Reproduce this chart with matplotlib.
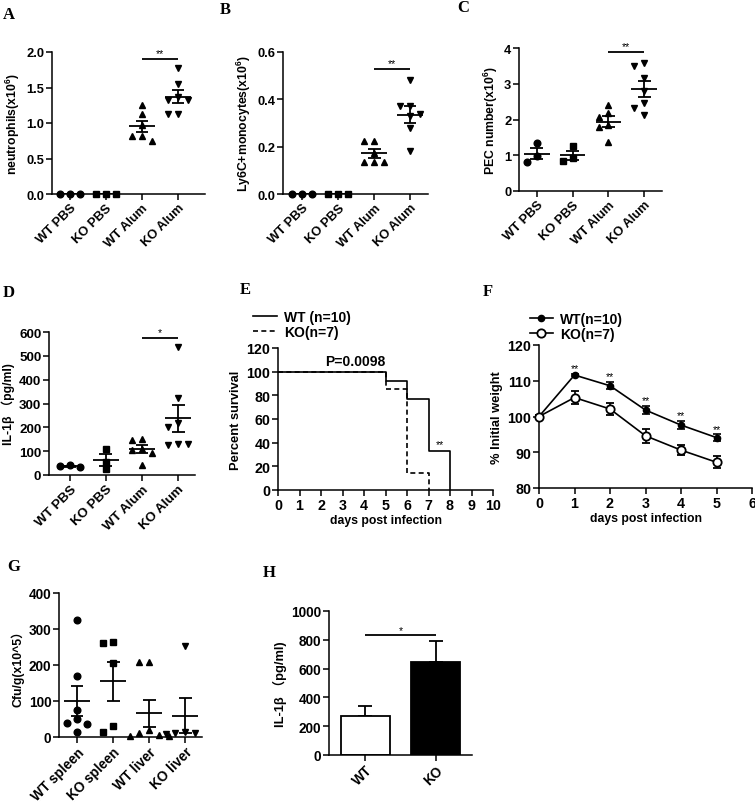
import numpy as np
import matplotlib
matplotlib.use("Agg")
import matplotlib.pyplot as plt
from matplotlib.lines import Line2D

plt.rcParams['font.family'] = ['Liberation Sans', 'DejaVu Sans']
plt.rcParams['font.weight'] = 'bold'
plt.rcParams['axes.labelweight'] = 'bold'
plt.rcParams['mathtext.fontset'] = 'custom'
plt.rcParams['mathtext.rm'] = 'Liberation Sans:bold'
plt.rcParams['mathtext.it'] = 'Liberation Sans:bold:italic'
plt.rcParams['mathtext.bf'] = 'Liberation Sans:bold'

# ---------------- data ----------------
abcd_cats = ["WT PBS", "KO PBS", "WT Alum", "KO Alum"]

a_wt_pbs = [0, 0, 0]
a_ko_pbs = [0, 0, 0]
a_wt_alum = [1.25, 1.13, 0.97, 0.81, 0.81, 0.74]
a_ko_alum = [1.78, 1.55, 1.36, 1.33, 1.33, 1.12, 1.12]

b_wt_pbs = [0, 0, 0]
b_ko_pbs = [0, 0, 0]
b_wt_alum = [0.226, 0.226, 0.174, 0.135, 0.135, 0.135]
b_ko_alum = [0.48, 0.37, 0.37, 0.34, 0.33, 0.28, 0.18]

c_wt_pbs = [1.33, 0.97, 0.82]
c_ko_pbs = [1.25, 0.92, 0.84]
c_wt_alum = [2.41, 2.17, 2.06, 1.86, 1.78, 1.38]
c_ko_alum = [3.57, 3.49, 3.16, 2.80, 2.46, 2.33, 2.13]

d_wt_pbs = [42, 36, 33]
d_ko_pbs = [110, 55, 25]
d_wt_alum = [150, 148, 110, 105, 92, 40]
d_ko_alum = [535, 325, 220, 200, 130, 125, 130]

e_wt_days = [0, 5, 6, 7, 8]
e_wt_surv = [100, 92.3, 76.9, 33.3, 0]
e_ko_days = [0, 5, 6, 7]
e_ko_surv = [100, 85.7, 14.3, 0]

f_days = [0, 1, 2, 3, 4, 5]
f_wt_mean = [100, 111.6, 108.6, 101.8, 97.6, 94.1]
f_wt_sem = [0.3, 0.4, 1.0, 1.1, 1.1, 0.9]
f_ko_mean = [100, 105.3, 102.1, 94.6, 90.6, 87.2]
f_ko_sem = [0.5, 1.8, 1.8, 2.0, 1.3, 1.7]

g_cats = ["WT spleen", "KO spleen", "WT liver", "KO liver"]
g_wt_spleen = [325, 170, 75, 50, 38, 35, 13]
g_ko_spleen = [263, 260, 205, 30, 15]
g_wt_liver = [208, 208, 20, 12, 5, 3, 3]
g_ko_liver = [253, 13, 12, 10, 8]

h_cats = ["WT", "KO"]
h_means = [268, 643]
h_sems = [70, 150]

# ---------------- helpers ----------------
W, H = 755, 803
fig = plt.figure(figsize=(W / 100, H / 100), dpi=100)

LW = 1.1
LABFS = 8.8


def add_ax(x0, x1, ytop, ybot, fs):
    ax = fig.add_axes([x0 / W, 1 - ybot / H, (x1 - x0) / W, (ybot - ytop) / H])
    for s in ['top', 'right']:
        ax.spines[s].set_visible(False)
    for s in ['left', 'bottom']:
        ax.spines[s].set_linewidth(LW)
    ax.tick_params(direction='out', length=4, width=LW, labelsize=fs, pad=1.5)
    return ax


def bold_ticks(ax):
    for lab in ax.get_xticklabels() + ax.get_yticklabels():
        lab.set_fontweight('bold')


def swarm(vals, thresh, step):
    placed = []
    offs = []
    for v in vals:
        chosen = 0
        for k in [0, -1, 1, -2, 2, -3, 3]:
            x = k * step
            if all(abs(x - px) >= step * 0.9 or abs(v - pv) >= thresh for px, pv in placed):
                chosen = x
                break
        placed.append((chosen, v))
        offs.append(chosen)
    return np.array(offs)


def scatter_panel(ax, groups, markers, yrange, ms=4.8):
    thresh = 0.05 * yrange
    for i, (vals, mk) in enumerate(zip(groups, markers)):
        vals = np.asarray(vals, dtype=float)
        offs = swarm(vals, thresh, 0.27)
        ax.plot(i + offs, vals, linestyle='none', marker=mk, color='black',
                markersize=ms, zorder=3, clip_on=False)
        m = vals.mean()
        sem = vals.std(ddof=1) / np.sqrt(len(vals))
        ax.hlines(m, i - 0.36, i + 0.36, color='black', lw=1.3, zorder=4)
        ax.vlines(i, m - sem, m + sem, color='black', lw=1.3, zorder=4)
        ax.hlines([m - sem, m + sem], i - 0.18, i + 0.18, color='black', lw=1.3, zorder=4)


def rot_labels(ax, labels, fs):
    ax.set_xticks(range(len(labels)))
    ax.set_xticklabels(labels, rotation=45, ha='right', rotation_mode='anchor',
                       fontsize=fs, fontweight='bold')


def sig(ax, x0, x1, y, text, dy):
    ax.hlines(y, x0, x1, color='black', lw=1.3)
    ax.text((x0 + x1) / 2, y + dy, text, ha='center', va='center', fontsize=7.5,
            fontweight='normal')


def letter(x, y, t):
    fig.text(x / W, 1 - y / H, t, family=['Liberation Serif'], fontweight='bold',
             fontsize=12, ha='left', va='center')


mk4 = ['o', 's', '^', 'v']

# ---------------- A ----------------
fs = 9.3
ax = add_ax(52, 205, 53, 195, fs)
scatter_panel(ax, [a_wt_pbs, a_ko_pbs, a_wt_alum, a_ko_alum], mk4, 2.0)
ax.set_xlim(-0.5, 3.75)
ax.set_ylim(0, 2.0)
ax.set_yticks([0, 0.5, 1.0, 1.5, 2.0])
ax.set_yticklabels(['0.0', '0.5', '1.0', '1.5', '2.0'])
rot_labels(ax, abcd_cats, fs)
ax.set_ylabel('neutrophils(x10$^{6}$)', fontsize=LABFS, labelpad=3)
sig(ax, 2, 3, 1.9, '**', 0.08)
bold_ticks(ax)

# ---------------- B ----------------
ax = add_ax(283, 428, 53, 195, fs)
scatter_panel(ax, [b_wt_pbs, b_ko_pbs, b_wt_alum, b_ko_alum], mk4, 0.6)
ax.set_xlim(-0.53, 3.5)
ax.set_ylim(0, 0.6)
ax.set_yticks([0, 0.2, 0.4, 0.6])
ax.set_yticklabels(['0.0', '0.2', '0.4', '0.6'])
rot_labels(ax, abcd_cats, fs)
ax.set_ylabel('Ly6C+monocytes(x10$^{6}$)', fontsize=LABFS, labelpad=3)
sig(ax, 2, 3, 0.527, '**', 0.025)
bold_ticks(ax)

# ---------------- C ----------------
ax = add_ax(519, 662, 49, 192, fs)
scatter_panel(ax, [c_wt_pbs, c_ko_pbs, c_wt_alum, c_ko_alum], mk4, 4.0)
ax.set_xlim(-0.5, 3.5)
ax.set_ylim(0, 4)
ax.set_yticks([0, 1, 2, 3, 4])
rot_labels(ax, abcd_cats, fs)
ax.set_ylabel('PEC number(x10$^{6}$)', fontsize=LABFS, labelpad=3)
sig(ax, 2, 3, 3.88, '**', 0.17)
bold_ticks(ax)

# ---------------- D ----------------
fs = 9.6
ax = add_ax(49, 195, 333, 476, fs)
scatter_panel(ax, [d_wt_pbs, d_ko_pbs, d_wt_alum, d_ko_alum], mk4, 600)
ax.set_xlim(-0.58, 3.47)
ax.set_ylim(0, 600)
ax.set_yticks(range(0, 601, 100))
rot_labels(ax, abcd_cats, fs)
ax.set_ylabel('IL-1β （pg/ml)', fontsize=LABFS, labelpad=3,
              family=['Liberation Sans', 'Noto Sans CJK SC'])
sig(ax, 2, 3, 576, '*', 22)
bold_ticks(ax)

# ---------------- E ----------------
fs = 10.3
ax = add_ax(278, 493, 349, 491, fs)
ax.step(e_wt_days, e_wt_surv, where='post', color='black', lw=1.2)
ax.step(e_ko_days, e_ko_surv, where='post', color='black', lw=1.2, linestyle=(0, (3, 2)))
ax.set_xlim(0, 10)
ax.set_ylim(0, 120)
ax.set_xticks(range(0, 11))
ax.set_yticks(range(0, 121, 20))
ax.set_xlabel('days post infection', fontsize=LABFS, labelpad=2)
ax.set_ylabel('Percent survival', fontsize=LABFS + 0.5, labelpad=3)
ax.text(3.6, 109, 'P=0.0098', ha='center', va='center', fontsize=10, fontweight='bold')
ax.text(7.55, 39, '**', ha='center', va='center', fontsize=7.5, fontweight='normal')
e_handles = [Line2D([], [], color='black', lw=1.2),
             Line2D([], [], color='black', lw=1.2, linestyle=(0, (3, 2)))]
ax.legend(e_handles, ['WT (n=10)', 'KO(n=7)'], loc='upper left',
          bbox_to_anchor=(-0.14, 1.31), frameon=False,
          handlelength=1.7, handletextpad=0.5, borderaxespad=0, labelspacing=0.1,
          prop={'weight': 'bold', 'size': 10})
bold_ticks(ax)

# ---------------- F ----------------
ax = add_ax(539, 752, 346, 489, fs)
ax.errorbar(f_days, f_wt_mean, yerr=f_wt_sem, color='black', marker='o', markersize=4.5,
            lw=1.2, capsize=3, capthick=1.2, elinewidth=1.2, zorder=3, clip_on=False)
ax.errorbar(f_days, f_ko_mean, yerr=f_ko_sem, color='black', marker='o', markersize=6,
            markerfacecolor='white', markeredgewidth=1.3, lw=1.2, capsize=3, capthick=1.2,
            elinewidth=1.2, zorder=3, clip_on=False)
ax.set_xlim(0, 6)
ax.set_ylim(80, 120)
ax.set_xticks(range(0, 7))
ax.set_yticks(range(80, 121, 10))
ax.set_xlabel('days post infection', fontsize=LABFS, labelpad=2)
ax.set_ylabel('% Initial weight', fontsize=LABFS + 0.5, labelpad=3)
for d, m, s in zip(f_days[1:], f_wt_mean[1:], f_wt_sem[1:]):
    ax.text(d, m + s + 1.6, '**', ha='center', va='center', fontsize=7.5, fontweight='normal')
f_handles = [Line2D([], [], color='black', lw=1.2, marker='o', markersize=4.5),
             Line2D([], [], color='black', lw=1.2, marker='o', markersize=6,
                    markerfacecolor='white', markeredgewidth=1.3)]
ax.legend(f_handles, ['WT(n=10)', 'KO(n=7)'], loc='upper left',
          bbox_to_anchor=(-0.07, 1.27), frameon=False,
          handlelength=1.7, handletextpad=0.5, borderaxespad=0, labelspacing=0.1,
          prop={'weight': 'bold', 'size': 10})
bold_ticks(ax)

# ---------------- G ----------------
fs = 9.8
ax = add_ax(59, 202, 594, 738, fs)
scatter_panel(ax, [g_wt_spleen, g_ko_spleen, g_wt_liver, g_ko_liver], mk4, 400)
ax.set_xlim(-0.5, 3.47)
ax.set_ylim(0, 400)
ax.set_yticks(range(0, 401, 100))
rot_labels(ax, g_cats, fs)
ax.set_ylabel('Cfu/g(x10^5）', fontsize=LABFS, labelpad=3,
              family=['Liberation Sans', 'Noto Sans CJK SC'])
bold_ticks(ax)

# ---------------- H ----------------
ax = add_ax(329, 472, 612, 756, fs)
xh = np.arange(len(h_cats))
ax.bar(xh, h_means, width=0.69, color=['white', 'black'], edgecolor='black', linewidth=1.3,
       zorder=2)
ax.errorbar(xh, h_means, yerr=[np.zeros(len(h_means)), h_sems], fmt='none', ecolor='black',
            elinewidth=1.3, capsize=5, capthick=1.3, zorder=1)
ax.set_xlim(-0.51, 1.51)
ax.set_ylim(0, 1000)
ax.set_yticks(range(0, 1001, 200))
rot_labels(ax, h_cats, fs)
ax.set_ylabel('IL-1β （pg/ml)', fontsize=LABFS + 0.5, labelpad=3,
              family=['Liberation Sans', 'Noto Sans CJK SC'])
sig(ax, 0, 1, 835, '*', 30)
bold_ticks(ax)

# ---------------- letters ----------------
letter(3, 15, 'A')
letter(220, 10, 'B')
letter(457, 8, 'C')
letter(3, 293, 'D')
letter(240, 290, 'E')
letter(483, 292, 'F')
letter(7, 567, 'G')
letter(263, 573, 'H')

fig.savefig('out.png', dpi=100)
